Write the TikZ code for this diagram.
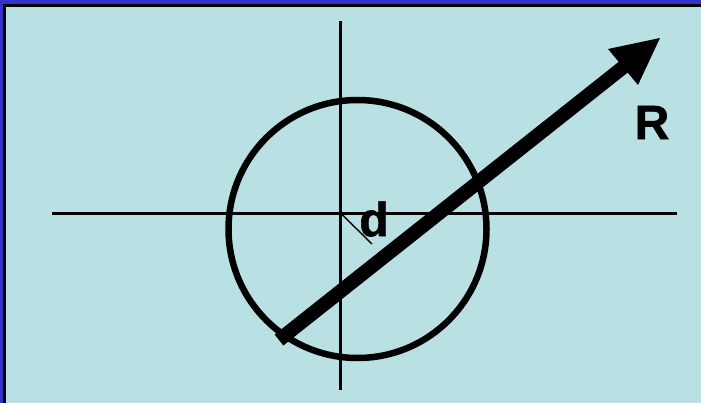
\documentclass[tikz,border=0pt]{standalone}
\usepackage{fontspec}
\setmainfont{Liberation Sans}
\newfontfamily\heavyfont[BoldFeatures={FakeBold=1.2}]{Liberation Sans}
\definecolor{bgblue}{HTML}{B9E0E3}
\definecolor{frameblue}{HTML}{3333CC}
\begin{document}
\begin{tikzpicture}[x=1pt,y=-1pt,
  axis/.style={line width=2.8pt},
  lbl/.style={font=\heavyfont\fontsize{48}{48}\selectfont\bfseries, inner sep=0pt}]
\useasboundingbox (0,0) rectangle (701,403);
\fill[frameblue] (0,0) rectangle (701,403);
\fill[black] (3,4) rectangle (701,403);
\fill[bgblue] (6,7) rectangle (701,403);
% circle
\coordinate (c) at (357.5,229);
\draw[line width=6.5pt] (c) circle[radius=129];
% axes
\coordinate (vt) at (340.5,21);
\coordinate (vb) at (340.5,390);
\coordinate (hl) at (52,213.5);
\coordinate (hr) at (677,213.5);
\draw[axis] (vt) -- (vb);
\draw[axis] (hl) -- (hr);
% d line
\coordinate (o) at (341,213.5);
\coordinate (dd) at (372,244);
\draw[line width=1.4pt] (o) -- (dd);
% arrow R
\coordinate (tail) at (279,340);
\coordinate (hb) at (626,65);
\coordinate (tip) at (660,38);
\coordinate (h1) at (608,49);
\coordinate (h2) at (638,85);
\draw[line width=14pt] (tail) -- (hb);
\fill (tip) -- (h1) -- (623,67) -- (h2) -- cycle;
\node[lbl] (d) at (374,219) {d};
\node[lbl] (R) at (652,122.5) {R};
\end{tikzpicture}
\end{document}
